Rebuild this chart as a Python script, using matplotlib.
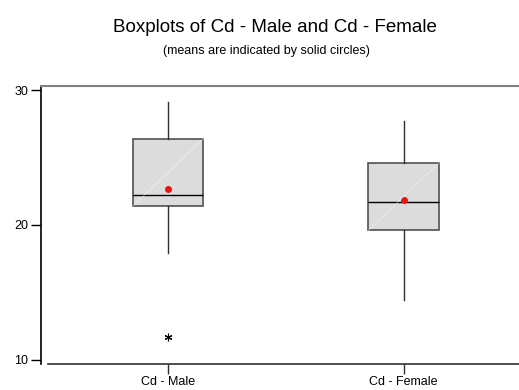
import matplotlib
matplotlib.use("Agg")
import matplotlib.pyplot as plt

plt.rcParams['font.family'] = ['Liberation Sans', 'DejaVu Sans']

# Resumen de cada grupo (cuartiles, bigotes, media, atípicos)
labels = ["Cd - Male", "Cd - Female"]
q1 = [21.4, 19.6]
med = [22.2, 21.7]
q3 = [26.4, 24.6]
whislo = [17.9, 14.4]
whishi = [29.1, 27.7]
means = [22.65, 21.85]
fliers = [[11.7], []]
positions = [1, 2]

stats = []
for i in range(len(labels)):
    stats.append({
        "label": labels[i], "q1": q1[i], "med": med[i], "q3": q3[i],
        "whislo": whislo[i], "whishi": whishi[i], "mean": means[i],
        "fliers": fliers[i],
    })

fig = plt.figure(figsize=(5.19, 3.9), dpi=100)
ax = fig.add_axes([0.079, 0.067, 0.921, 0.713])

box_w = 0.30
ax.bxp(stats, positions=positions, widths=box_w, showmeans=True,
       showcaps=False, patch_artist=True,
       boxprops=dict(facecolor="#dcdcdc", edgecolor="#505050", linewidth=1.2),
       medianprops=dict(color="black", linewidth=1.0),
       whiskerprops=dict(color="#303030", linewidth=1.0),
       meanprops=dict(marker="o", markerfacecolor="#ee1111", markeredgecolor="#ee1111",
                      markersize=4),
       flierprops=dict(marker=(6, 2, 0), markerfacecolor="none", markeredgecolor="black",
                       markersize=5.5, markeredgewidth=0.8))

# línea diagonal tenue dentro de cada caja
for p, lo, hi in zip(positions, q1, q3):
    ax.plot([p - box_w / 2, p + box_w / 2], [lo, hi], color="white", lw=0.6,
            alpha=0.5, zorder=3)

ax.set_xlim(0.46, 2.49)
ax.set_ylim(9.7, 30.32)
ax.set_yticks([10, 20, 30])
ax.set_xticks(positions)
ax.set_xticklabels(labels)
ax.tick_params(axis="y", length=7, width=1, labelsize=9, pad=2)
ax.tick_params(axis="x", length=7, width=1, labelsize=9, pad=2, color="#303030")

ax.spines["right"].set_visible(False)
ax.spines["top"].set_color("#808080")
ax.spines["top"].set_linewidth(1.5)
ax.spines["left"].set_linewidth(1.2)
ax.spines["bottom"].set_color("#303030")
ax.spines["bottom"].set_linewidth(1.2)
ax.spines["bottom"].set_bounds(0.49, 2.49)

fig.text(0.53, 0.93, "Boxplots of Cd - Male and Cd - Female", ha="center",
         va="center", fontsize=13.5)
fig.text(0.513, 0.87, "(means are indicated by solid circles)", ha="center",
         va="center", fontsize=9)

fig.savefig("out.png", dpi=100)
